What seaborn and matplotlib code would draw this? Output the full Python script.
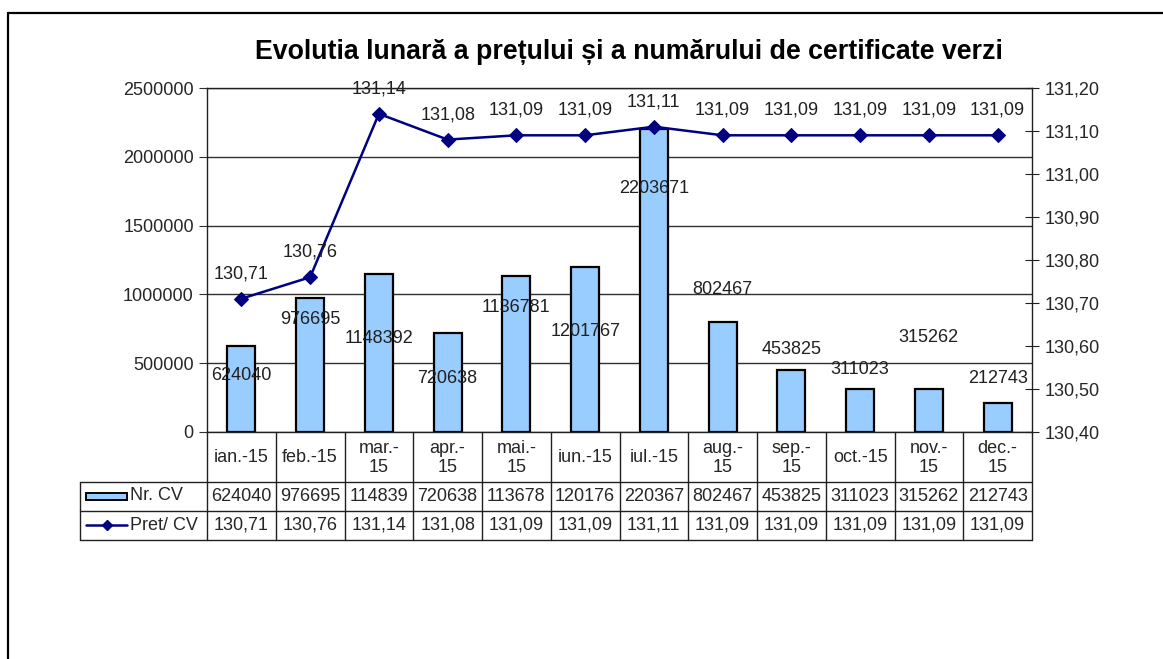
import numpy as np
import matplotlib
matplotlib.use('Agg')
import matplotlib.pyplot as plt
import seaborn as sns
from matplotlib.lines import Line2D
from matplotlib.patches import Rectangle
from matplotlib.ticker import FuncFormatter

# data
months = ['ian.-15', 'feb.-15', 'mar.-\n15', 'apr.-\n15', 'mai.-\n15', 'iun.-15',
          'iul.-15', 'aug.-\n15', 'sep.-\n15', 'oct.-15', 'nov.-\n15', 'dec.-\n15']
nr_cv = [624040, 976695, 1148392, 720638, 1136781, 1201767,
         2203671, 802467, 453825, 311023, 315262, 212743]
pret_cv = [130.71, 130.76, 131.14, 131.08, 131.09, 131.09,
           131.11, 131.09, 131.09, 131.09, 131.09, 131.09]

# where excel left the bar value labels (left axis units)
bar_label_y = [414000, 814000, 676000, 392000, 908000, 727000,
               1773000, 1032000, 596000, 451000, 690000, 392000]

sns.set_style('white')
plt.rcParams['font.family'] = ['Liberation Sans', 'DejaVu Sans']

W, H = 1163, 659
fig = plt.figure(figsize=(W / 100, H / 100), dpi=100)

def fx(px):
    return px / W

def fy(py):
    return 1 - py / H

left_px, right_px, top_px, bot_px = 207, 1032, 88, 432
ax = fig.add_axes([fx(left_px), fy(bot_px), fx(right_px) - fx(left_px), fy(top_px) - fy(bot_px)])

bar_blue = '#99CCFF'
navy = '#000080'
fs = 13

x = np.arange(len(months))
sns.barplot(x=x, y=nr_cv, color=bar_blue, edgecolor='black', linewidth=1.6,
            width=0.41, saturation=1, ax=ax, native_scale=True)
ax.set_xlim(-0.5, len(months) - 0.5)
ax.set_ylim(0, 2500000)
ax.set_yticks(np.arange(0, 2500001, 500000))
ax.yaxis.set_major_formatter(FuncFormatter(lambda v, p: f'{int(v)}'))
ax.grid(axis='y', color='#303030', linewidth=1.0)
ax.set_axisbelow(True)
ax.set_xticks([])
ax.tick_params(axis='y', labelsize=fs, length=6, direction='out', left=True, color='#303030')
for s in ax.spines.values():
    s.set_visible(True)
    s.set_color('#202020')
    s.set_linewidth(1.0)

for i, v in enumerate(nr_cv):
    ax.text(i, bar_label_y[i], str(v), ha='center', va='center', fontsize=fs, color='#202020')

ax2 = ax.twinx()
sns.lineplot(x=x, y=pret_cv, color=navy, marker='D', markersize=7, markeredgecolor=navy,
             linewidth=1.8, ax=ax2)
ax2.set_ylim(130.40, 131.20)
ax2.set_yticks(np.round(np.arange(130.40, 131.201, 0.10), 2))
ax2.yaxis.set_major_formatter(FuncFormatter(lambda v, p: f'{v:.2f}'.replace('.', ',')))
ax2.tick_params(axis='y', labelsize=fs, length=10, direction='inout', right=True, color='#202020', pad=4)
ax2.set_xlim(-0.5, len(months) - 0.5)
ax2.set_ylabel('')
for s in ax2.spines.values():
    s.set_visible(False)

for i, v in enumerate(pret_cv):
    ax2.annotate(f'{v:.2f}'.replace('.', ','), (i, v), xytext=(0, 18), textcoords='offset points',
                 ha='center', va='center', fontsize=fs, color='#202020')

fig.text(fx(629), fy(52), 'Evolutia lunară a prețului și a numărului de certificate verzi',
         ha='center', va='center', fontsize=19.3, fontweight='bold', color='black')

# data table under the chart
col_w = (right_px - left_px) / len(months)
row_y = [432, 482, 511, 540]
tab_left = 80
lc = '#202020'

def hline(x0, x1, y):
    fig.add_artist(Line2D([fx(x0), fx(x1)], [fy(y), fy(y)], color=lc, linewidth=1.0))

def vline(xp, y0, y1):
    fig.add_artist(Line2D([fx(xp), fx(xp)], [fy(y0), fy(y1)], color=lc, linewidth=1.0))

hline(tab_left, right_px, row_y[1])
hline(tab_left, right_px, row_y[2])
hline(tab_left, right_px, row_y[3])
vline(tab_left, row_y[1], row_y[3])
for i in range(len(months) + 1):
    vline(left_px + i * col_w, row_y[0], row_y[3])

for i, m in enumerate(months):
    cx = left_px + (i + 0.5) * col_w
    fig.text(fx(cx), fy((row_y[0] + row_y[1]) / 2 + 1), m, ha='center', va='center',
             fontsize=fs, linespacing=1.15)
    fig.text(fx(cx), fy((row_y[1] + row_y[2]) / 2), str(nr_cv[i])[:6], ha='center', va='center',
             fontsize=fs)
    fig.text(fx(cx), fy((row_y[2] + row_y[3]) / 2), f'{pret_cv[i]:.2f}'.replace('.', ','),
             ha='center', va='center', fontsize=fs)

# legend keys in the table
fig.add_artist(Rectangle((fx(86), fy(500)), fx(127) - fx(86), fy(493) - fy(500),
                         facecolor=bar_blue, edgecolor='black', linewidth=1.4))
fig.text(fx(130), fy(496), 'Nr. CV', ha='left', va='center', fontsize=fs)
fig.add_artist(Line2D([fx(86), fx(127)], [fy(525), fy(525)], color=navy, linewidth=1.8))
fig.add_artist(Line2D([fx(106.5)], [fy(525)], color=navy, marker='D', markersize=5))
fig.text(fx(130), fy(525), 'Pret/ CV', ha='left', va='center', fontsize=fs)

# outer frame (top and left edges only)
fig.add_artist(Line2D([fx(8), fx(W)], [fy(13), fy(13)], color='black', linewidth=1.6))
fig.add_artist(Line2D([fx(8), fx(8)], [fy(13), fy(H)], color='black', linewidth=1.6))

fig.savefig('out.png', dpi=100)
